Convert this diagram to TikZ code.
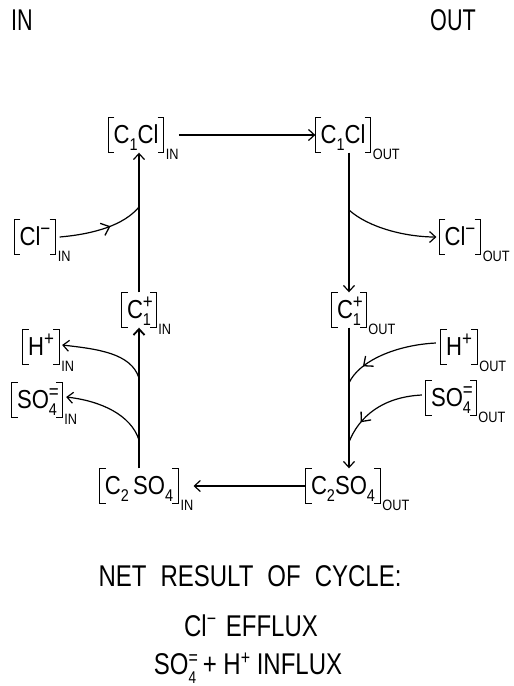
\documentclass[tikz,border=0pt]{standalone}
\usepackage{fontspec}
\setmainfont{Liberation Sans}
\newfontfamily\cmd{Liberation Sans}[FakeStretch=0.85]
\newfontfamily\cnd{Liberation Sans}[FakeStretch=0.72]
\newfontfamily\cnb{Liberation Sans}[FakeStretch=0.8]
\usetikzlibrary{arrows.meta,decorations.markings}
\newcommand\lo[1]{\raisebox{-0.28em}{\fontsize{17}{17}\selectfont #1}}
\newcommand\hi[1]{\raisebox{0.36em}{\fontsize{20}{20}\selectfont #1}}
\newcommand\hilo[2]{\makebox[0pt][l]{\hi{#1}}\lo{#2}}
\newcommand\ionbr[4]{%
  \node[conc] (#1) at (#2) {#3};
  \draw[brk] ([xshift=6pt]#1.north west) -- (#1.north west) -- (#1.south west) -- ([xshift=6pt]#1.south west);
  \draw[brk] ([xshift=-6pt]#1.north east) -- (#1.north east) -- (#1.south east) -- ([xshift=-6pt]#1.south east);
  \node[subs] (#1s) at ([xshift=2pt,yshift=-2pt]#1.south east) {#4};
}
\tikzset{
  conc/.style={inner xsep=5pt, inner ysep=4.5pt, text height=21pt, text depth=5pt, font=\cmd\fontsize{26}{26}\selectfont},
  subs/.style={anchor=west, inner sep=0pt, font=\cmd\fontsize{15}{15}\selectfont},
  brk/.style={line width=1.1pt},
  lab/.style={inner sep=0pt, font=\cnd\fontsize{30}{30}\selectfont},
  labb/.style={inner sep=0pt, font=\cnb\fontsize{30}{30}\selectfont},
  arr/.style={line width=1.2pt, -{Straight Barb[length=6pt,width=11pt]}},
  midarr/.style={line width=1.2pt, postaction={decorate}, decoration={markings, mark=at position #1 with {\arrow{Straight Barb[length=7.5pt,width=13pt,line width=1.3pt]}}}}
}
\begin{document}
\begin{tikzpicture}[x=1pt,y=-1pt]
\path[fill=white] (0,0) rectangle (514,686);
\useasboundingbox (0,0) rectangle (514,686);

\node[lab] (inlab) at (22,20) {IN};
\node[lab] (outlab) at (453,20) {OUT};

\ionbr{clclin}{136,135}{C\lo{1}Cl}{IN}
\ionbr{clclout}{343,135}{C\lo{1}Cl}{OUT}
\ionbr{clin}{35,237}{Cl\hi{−}}{IN}
\ionbr{clout}{460,237}{Cl\hi{−}}{OUT}
\ionbr{cpin}{139,310}{C\hilo{+}{1}}{IN}
\ionbr{cpout}{349,310}{C\hilo{+}{1}}{OUT}
\ionbr{hin}{41,347}{H\hi{+}}{IN}
\ionbr{hout}{459,347}{H\hi{+}}{OUT}
\ionbr{soin}{37,400}{SO\hilo{=}{4}}{IN}
\ionbr{soout}{451,398}{SO\hilo{=}{4}}{OUT}
\ionbr{ctin}{139,486}{C\lo{2}\,SO\lo{4}}{IN}
\ionbr{ctout}{343,486}{C\lo{2}SO\lo{4}}{OUT}

\coordinate (j1) at (139,207);
\coordinate (j2) at (349,210);
\coordinate (j3) at (139,378);
\coordinate (j4) at (139,440);
\coordinate (j5) at (349,383);
\coordinate (j6) at (349,442);

% main cycle
\draw[arr] (clclins.east |- clclin) -- (clclout.west);
\draw[arr] (cpout.north |- clclout.south) -- (cpout.north);
\draw[arr] (cpout.south) -- (cpout.south |- ctout.north);
\draw[arr] (ctout.west) -- (ctins.east |- ctin);
\draw[arr, line width=1.8pt] (cpin.south |- ctin.north) -- (cpin.south);
\draw[arr] (cpin.north) -- (cpin.north |- clclin.south);

% side branches
\draw[midarr=0.6] ([xshift=4pt]clin.east) .. controls +(35,-3) and +(-15,18) .. (j1);
\draw[arr] (j2) .. controls +(20,18) and +(-30,0) .. ([xshift=-3pt]clout.west);
\draw[arr] (j3) .. controls +(-8,-25) and +(35,4) .. ([xshift=3pt,yshift=2pt]hin.east);
\draw[arr] (j4) .. controls +(-8,-25) and +(35,4) .. ([xshift=4pt,yshift=3pt]soin.east);
\draw[midarr=0.78] ([xshift=-5pt,yshift=4pt]hout.west) .. controls +(-40,2) and +(10,-22) .. (j5);
\draw[midarr=0.75] ([xshift=-4pt,yshift=3pt]soout.west) .. controls +(-40,2) and +(10,-25) .. (j6);

% net result
\node[labb] (net) at (250,576) {NET\hspace{14pt}RESULT\hspace{14pt}OF\hspace{14pt}CYCLE:};
\node[labb] (eff) at (251,626) {Cl\hi{−}\hspace{3pt} EFFLUX};
\node[labb] (inf) at (248,668) {SO\hilo{=}{4} + H\hi{+} INFLUX};
\end{tikzpicture}
\end{document}
